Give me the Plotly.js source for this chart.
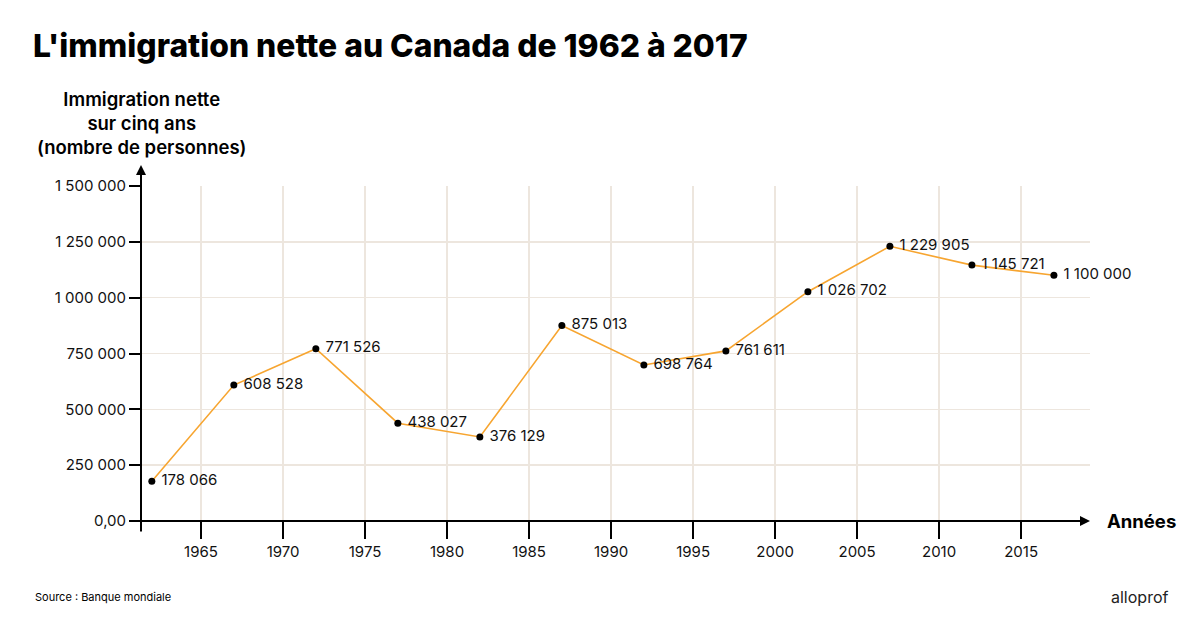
<!DOCTYPE html>
<html>
<head>
<meta charset="utf-8">
<script src="https://cdn.plot.ly/plotly-3.0.1.min.js"></script>
<style>html,body{margin:0;padding:0;background:#fff;}#chart{width:1200px;height:623px;}</style>
</head>
<body>
<div id="chart"></div>
<script>
const years = [1962, 1967, 1972, 1977, 1982, 1987, 1992, 1997, 2002, 2007, 2012, 2017];
const netImmigration = [178066, 608528, 771526, 438027, 376129, 875013, 698764, 761611, 1026702, 1229905, 1145721, 1100000];
const pointLabels = ["178 066", "608 528", "771 526", "438 027", "376 129", "875 013", "698 764", "761 611", "1 026 702", "1 229 905", "1 145 721", "1 100 000"];
const yTickVals = [0, 250000, 500000, 750000, 1000000, 1250000, 1500000];
const yTickText = ["0,00", "250 000", "500 000", "750 000", "1 000 000", "1 250 000", "1 500 000"];
const xTickVals = [1965, 1970, 1975, 1980, 1985, 1990, 1995, 2000, 2005, 2010, 2015];

const FONT = "Inter, 'Open Sans', sans-serif";

const trace = {
  x: years,
  y: netImmigration,
  text: pointLabels.map(t => ' ' + t),
  type: 'scatter',
  mode: 'lines+markers+text',
  textposition: 'middle right',
  textfont: {family: FONT, size: 15, color: '#111'},
  line: {color: '#f7a530', width: 1.6},
  marker: {color: '#000', size: 7},
  hoverinfo: 'skip',
  cliponaxis: false
};

const layout = {
  width: 1200, height: 623,
  paper_bgcolor: '#fff', plot_bgcolor: '#fff',
  margin: {l: 141, r: 110, t: 186, b: 102},
  showlegend: false,
  font: {family: FONT, color: '#111'},
  title: {
    text: "L'immigration nette au Canada de 1962 à 2017",
    x: 0.0275, xanchor: 'left', xref: 'container',
    y: 0.926, yanchor: 'middle', yref: 'container',
    font: {family: FONT, size: 31.8, color: '#000', weight: 800}
  },
  xaxis: {
    range: [1961.34, 2019.2],
    tickmode: 'array', tickvals: xTickVals,
    ticks: 'outside', ticklen: 17, tickwidth: 2, tickcolor: '#000',
    showgrid: true, gridcolor: '#ede6de', gridwidth: 1.5,
    showline: false, zeroline: false,
    tickfont: {family: FONT, size: 15, color: '#111'},
    fixedrange: true
  },
  yaxis: {
    range: [0, 1500000],
    tickmode: 'array', tickvals: yTickVals, ticktext: yTickText,
    ticks: 'outside', ticklen: 11, tickwidth: 2, tickcolor: '#000',
    showgrid: true, gridcolor: '#ede6de', gridwidth: 1.5,
    showline: false, zeroline: false,
    tickfont: {family: FONT, size: 15, color: '#111'},
    fixedrange: true
  },
  annotations: [
    {xref: 'paper', yref: 'paper', x: 0, y: 1.0627, text: '', showarrow: true,
     ax: 0, ay: 368, axref: 'pixel', ayref: 'pixel', arrowhead: 2, arrowsize: 1, arrowwidth: 2, arrowcolor: '#000', standoff: 0},
    {xref: 'paper', yref: 'paper', x: 1, y: 0, text: '', showarrow: true,
     ax: -960, ay: 0, arrowhead: 2, arrowsize: 1, arrowwidth: 2, arrowcolor: '#000', standoff: 0},
    {xref: 'paper', yref: 'paper', x: 0.001, y: 1.2985, xanchor: 'center', yanchor: 'top',
     text: 'Immigration nette<br>sur cinq ans<br>(nombre de personnes)', showarrow: false, align: 'center',
     font: {family: FONT, size: 18.5, color: '#000', weight: 600}},
    {xref: 'paper', yref: 'paper', x: 1.0158, y: 0, xanchor: 'left', yanchor: 'middle',
     text: 'Années', showarrow: false, font: {family: FONT, size: 18.5, color: '#000', weight: 700}},
    {xref: 'paper', yref: 'paper', x: -0.1138, y: -0.2269, xanchor: 'left', yanchor: 'middle',
     text: 'Source : Banque mondiale', showarrow: false, font: {family: FONT, size: 11, color: '#000'}},
    {xref: 'paper', yref: 'paper', x: 1.0843, y: -0.2269, xanchor: 'right', yanchor: 'middle',
     text: 'alloprof', showarrow: false, font: {family: FONT, size: 16, color: '#222'}}
  ]
};

Plotly.newPlot('chart', [trace], layout, {displayModeBar: false, staticPlot: true});
</script>
</body>
</html>
